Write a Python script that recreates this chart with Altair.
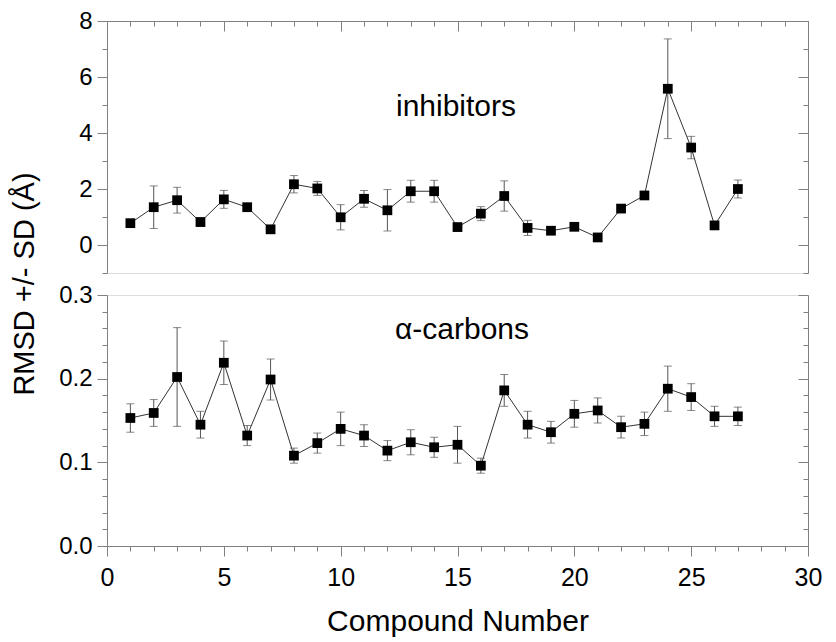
import altair as alt
import pandas as pd

compound = list(range(1, 28))
inh_mean = [0.78, 1.35, 1.60, 0.82, 1.63, 1.35, 0.56, 2.17, 2.02, 0.99, 1.65, 1.24, 1.92, 1.92,
            0.64, 1.12, 1.75, 0.61, 0.51, 0.65, 0.27, 1.30, 1.77, 5.58, 3.48, 0.70, 2.00]
inh_sd = [0.08, 0.76, 0.46, 0.15, 0.32, 0.05, 0.10, 0.31, 0.25, 0.45, 0.30, 0.74, 0.39, 0.39,
          0.05, 0.25, 0.54, 0.27, 0.05, 0.05, 0.05, 0.08, 0.08, 1.78, 0.40, 0.12, 0.32]
ca_mean = [0.153, 0.159, 0.202, 0.145, 0.219, 0.132, 0.199, 0.108, 0.123, 0.140, 0.132, 0.114, 0.124, 0.118,
           0.121, 0.096, 0.186, 0.145, 0.136, 0.158, 0.162, 0.142, 0.146, 0.188, 0.178, 0.155, 0.155]
ca_sd = [0.017, 0.016, 0.059, 0.016, 0.026, 0.012, 0.0245, 0.009, 0.012, 0.020, 0.013, 0.012, 0.015, 0.012,
         0.022, 0.009, 0.019, 0.016, 0.013, 0.016, 0.015, 0.013, 0.014, 0.027, 0.016, 0.012, 0.011]

x_major = [0, 5, 10, 15, 20, 25, 30]
x_minor = [v for v in range(0, 31) if v % 5 != 0]
inh_major = [0, 2, 4, 6, 8]
inh_minor = [-1, 1, 3, 5, 7]
ca_major = [0.0, 0.1, 0.2, 0.3]
ca_minor = [0.02, 0.04, 0.06, 0.08, 0.12, 0.14, 0.16, 0.18, 0.22, 0.24, 0.26, 0.28]
panel_labels = ["inhibitors", "α-carbons"]
y_title = "RMSD +/- SD (Å)"
x_title = "Compound Number"

FONT = "Liberation Sans, Arial, Helvetica, sans-serif"
AXC = "#808080"
W, H1, H2 = 701, 252, 251


def build(mean, sd, ydom, ymaj, ymin, fmt, label, lx, ly, height, bottom):
    df = pd.DataFrame({
        "x": compound,
        "y": mean,
        "lo": [m - s for m, s in zip(mean, sd)],
        "hi": [m + s for m, s in zip(mean, sd)],
    })
    xs = alt.Scale(domain=[0, 30], nice=False, zero=False)
    ys = alt.Scale(domain=ydom, nice=False, zero=False)
    base = alt.Chart(df)

    def X(axis=None, title=None):
        if axis is None:
            return alt.X("x:Q", scale=xs, axis=None)
        return alt.X("x:Q", scale=xs, axis=axis, title=title)

    def Y(field="y", axis=None):
        if axis is None:
            return alt.Y(field + ":Q", scale=ys, axis=None)
        return alt.Y(field + ":Q", scale=ys, axis=axis, title=None)

    err = base.mark_rule(color="#555555", strokeWidth=1).encode(x=X(), y=Y("lo"), y2="hi:Q")
    cap_lo = base.mark_tick(orient="horizontal", size=8, thickness=1, color="#555555").encode(x=X(), y=Y("lo"))
    cap_hi = base.mark_tick(orient="horizontal", size=8, thickness=1, color="#555555").encode(x=X(), y=Y("hi"))
    line = base.mark_line(color="#333333", strokeWidth=1).encode(x=X(), y=Y())
    pts = base.mark_square(size=95, color="black", opacity=1).encode(x=X(), y=Y())

    def ax_layer(xaxis=None, yaxis=None, title=None):
        return base.mark_point(opacity=0).encode(x=X(xaxis, title), y=Y("y", yaxis))

    common = dict(grid=False, domainColor=AXC, tickColor=AXC, tickWidth=1, domainWidth=1)
    layers = [err, cap_lo, cap_hi, line, pts]
    # left axis: outward ticks
    layers.append(ax_layer(yaxis=alt.Axis(orient="left", values=ymaj, tickSize=10, labelPadding=5,
                                          format=fmt, labelFontSize=24, labelFont=FONT, labelColor="black",
                                          domain=True, minExtent=60, maxExtent=60, **common)))
    layers.append(ax_layer(yaxis=alt.Axis(orient="left", values=ymin, tickSize=5, labels=False,
                                          domain=False, **common)))
    # right axis: inward ticks
    layers.append(ax_layer(yaxis=alt.Axis(orient="right", values=ymaj, tickSize=10, offset=-10,
                                          labels=False, domain=False, **common)))
    layers.append(ax_layer(yaxis=alt.Axis(orient="right", values=ymin, tickSize=5, offset=-5,
                                          labels=False, domain=False, **common)))
    layers.append(ax_layer(yaxis=alt.Axis(orient="right", ticks=False, labels=False, domain=True, **common)))
    if not bottom:
        layers.append(ax_layer(xaxis=alt.Axis(orient="top", values=x_major, tickSize=10, offset=-10,
                                              labels=False, domain=False, **common)))
        layers.append(ax_layer(xaxis=alt.Axis(orient="top", values=x_minor, tickSize=5, offset=-5,
                                              labels=False, domain=False, **common)))
        layers.append(ax_layer(xaxis=alt.Axis(orient="top", ticks=False, labels=False, domain=True, **common)))
    else:
        layers.append(ax_layer(xaxis=alt.Axis(orient="bottom", values=x_major, tickSize=10, labelPadding=9,
                                              labelFontSize=25, labelFont=FONT, labelColor="black",
                                              labelFlush=False, labelOverlap=False,
                                              titleFontSize=30, titleFont=FONT, titleFontWeight="normal",
                                              titleColor="black", titlePadding=16, domain=True, **common),
                               title=x_title))
        layers.append(ax_layer(xaxis=alt.Axis(orient="bottom", values=x_minor, tickSize=5,
                                              labels=False, domain=False, **common)))
        ytxt = alt.Chart(pd.DataFrame({"t": [y_title]})).mark_text(
            angle=270, fontSize=29, font=FONT, align="center", baseline="middle", color="black"
        ).encode(text="t:N", x=alt.value(-82), y=alt.value(-11))
        layers.append(ytxt)

    lab = alt.Chart(pd.DataFrame({"t": [label]})).mark_text(
        fontSize=30, font=FONT, align="center", baseline="alphabetic", color="black"
    ).encode(text="t:N", x=alt.value(lx), y=alt.value(ly))
    layers.append(lab)

    return alt.layer(*layers).resolve_axis(x="independent", y="independent").properties(width=W, height=height)


top = build(inh_mean, inh_sd, [-1, 8], inh_major, inh_minor, "d", panel_labels[0], 349, 95, H1, False)
bot = build(ca_mean, ca_sd, [0, 0.3], ca_major, ca_minor, ".1f", panel_labels[1], 355, 44, H2, True)

chart = alt.vconcat(top, bot, spacing=22, bounds="flush").properties(
    padding={"left": 2, "top": 0, "right": 0, "bottom": 0}
).configure_view(stroke=None).configure(font=FONT)

chart.save("out.html", embed_options={"renderer": "svg", "actions": False})
